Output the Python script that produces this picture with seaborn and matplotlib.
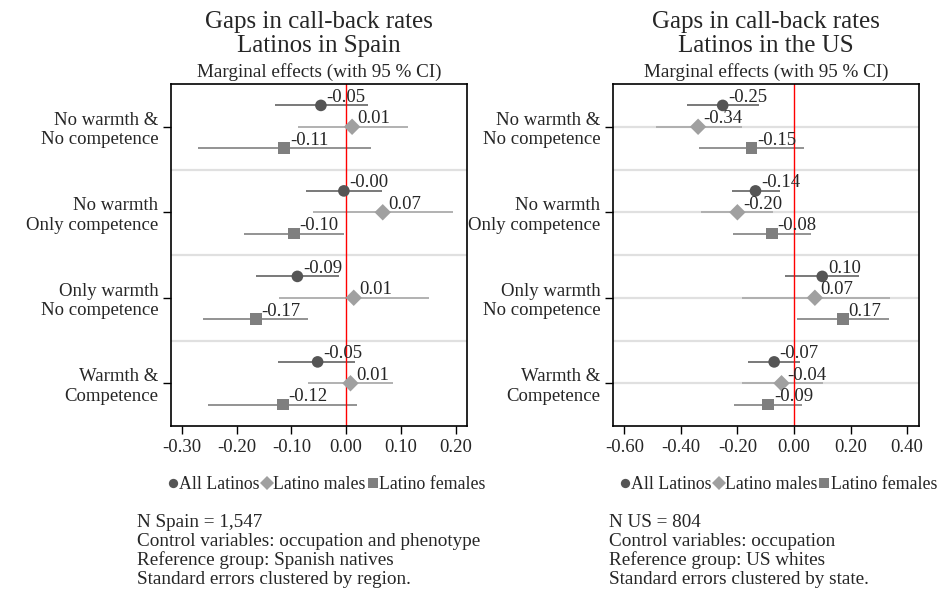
import numpy as np
import pandas as pd
import matplotlib
matplotlib.use("Agg")
import matplotlib.pyplot as plt
import seaborn as sns

# Data
groups = ["No warmth &\nNo competence", "No warmth\nOnly competence",
          "Only warmth\nNo competence", "Warmth &\nCompetence"]
series = ["All Latinos", "Latino males", "Latino females"]

spain_est = [[-0.046, 0.011, -0.113],
             [-0.004, 0.067, -0.095],
             [-0.089, 0.014, -0.165],
             [-0.052, 0.008, -0.115]]
spain_lo = [[-0.130, -0.088, -0.270],
            [-0.074, -0.061, -0.186],
            [-0.164, -0.122, -0.261],
            [-0.124, -0.070, -0.252]]
spain_hi = [[0.040, 0.113, 0.046],
            [0.066, 0.196, -0.004],
            [-0.013, 0.152, -0.070],
            [0.017, 0.086, 0.020]]

us_est = [[-0.252, -0.339, -0.150],
          [-0.136, -0.200, -0.077],
          [0.100, 0.074, 0.174],
          [-0.070, -0.044, -0.091]]
us_lo = [[-0.377, -0.488, -0.335],
         [-0.219, -0.327, -0.215],
         [-0.032, -0.185, 0.011],
         [-0.162, -0.185, -0.212]]
us_hi = [[-0.124, -0.185, 0.035],
         [-0.050, -0.073, 0.059],
         [0.231, 0.341, 0.335],
         [0.023, 0.101, 0.030]]

spain_ticks = [-0.30, -0.20, -0.10, 0.00, 0.10, 0.20]
us_ticks = [-0.60, -0.40, -0.20, 0.00, 0.20, 0.40]

spain_notes = ("N Spain = 1,547\nControl variables: occupation and phenotype\n"
               "Reference group: Spanish natives\nStandard errors clustered by region.")
us_notes = ("N US = 804\nControl variables: occupation\n"
            "Reference group: US whites\nStandard errors clustered by state.")

marker_col = {"All Latinos": "#555555", "Latino males": "#a0a0a0", "Latino females": "#7f7f7f"}
line_col = {"All Latinos": "#6e6e6e", "Latino males": "#ababab", "Latino females": "#8a8a8a"}
markers = {"All Latinos": "o", "Latino males": "D", "Latino females": "s"}
offsets = [-0.25, 0.0, 0.25]

sns.set_theme(style="white")
plt.rcParams["font.family"] = ["Liberation Serif", "DejaVu Serif"]


def build_df(est, lo, hi):
    rows = []
    for gi in range(len(groups)):
        for si, s in enumerate(series):
            rows.append({"group": gi, "y": gi + offsets[si], "series": s,
                         "est": est[gi][si], "lo": lo[gi][si], "hi": hi[gi][si]})
    return pd.DataFrame(rows)


def panel(ax, df, title, xlim, ticks, center_grid, leg_x):
    for y in [0.5, 1.5, 2.5]:
        ax.axhline(y, color="#e0e0e0", lw=1.6, zorder=0)
    if center_grid:
        for y in range(len(groups)):
            ax.axhline(y, color="#e0e0e0", lw=1.6, zorder=0)
    for s in series:
        d = df[df.series == s]
        ax.hlines(d.y, d.lo, d.hi, color=line_col[s], lw=1.3, zorder=2)
    sns.scatterplot(data=df, x="est", y="y", hue="series", style="series",
                    palette=marker_col, markers=markers, s=70, linewidth=0,
                    ax=ax, zorder=3, legend=True)
    ax.axvline(0, color="red", lw=1.0, zorder=2.5)
    for _, r in df.iterrows():
        ax.annotate(f"{r.est:.2f}", (r.est, r.y), xytext=(4, 2.5),
                    textcoords="offset points", ha="left", va="baseline",
                    fontsize=13.5, zorder=4)
    ax.set_xlim(*xlim)
    ax.set_ylim(3.5, -0.5)
    ax.set_xticks(ticks)
    ax.set_xticklabels([f"{t:.2f}" for t in ticks], fontsize=13.5)
    ax.set_yticks(range(len(groups)))
    ax.set_yticklabels(groups, fontsize=13.5)
    ax.set_xlabel("")
    ax.set_ylabel("")
    ax.tick_params(axis="both", which="both", direction="out", length=6, width=1,
                   color="black", bottom=True, left=True, pad=3)
    for sp in ax.spines.values():
        sp.set_visible(True)
        sp.set_color("black")
        sp.set_linewidth(1.2)
    ax.set_title("Marginal effects (with 95 % CI)", fontsize=13.8, pad=5)
    ax.text(0.5, 1.079, title, transform=ax.transAxes, ha="center", va="bottom",
            fontsize=18, linespacing=1.1)
    handles, labels = ax.get_legend_handles_labels()
    ax.legend(handles, labels, loc="upper center", bbox_to_anchor=(leg_x, -0.13),
              ncol=3, frameon=False, fontsize=12.8, handletextpad=0.05,
              columnspacing=0.1, handlelength=0.6, markerscale=0.8,
              borderaxespad=0, borderpad=0.3)


fig = plt.figure(figsize=(9.4, 5.93), dpi=100)
ax1 = fig.add_axes([0.1819, 0.2816, 0.3149, 0.5767])
ax2 = fig.add_axes([0.6521, 0.2816, 0.3255, 0.5767])

panel(ax1, build_df(spain_est, spain_lo, spain_hi),
      "Gaps in call-back rates\nLatinos in Spain", (-0.32, 0.221), spain_ticks, False, 0.525)
panel(ax2, build_df(us_est, us_lo, us_hi),
      "Gaps in call-back rates\nLatinos in the US", (-0.64, 0.442), us_ticks, True, 0.54)

fig.text(137 / 940, 1 - 514 / 593, spain_notes, ha="left", va="top", fontsize=13.8, linespacing=1.12)
fig.text(609 / 940, 1 - 514 / 593, us_notes, ha="left", va="top", fontsize=13.8, linespacing=1.12)

fig.savefig("out.png", dpi=100)
